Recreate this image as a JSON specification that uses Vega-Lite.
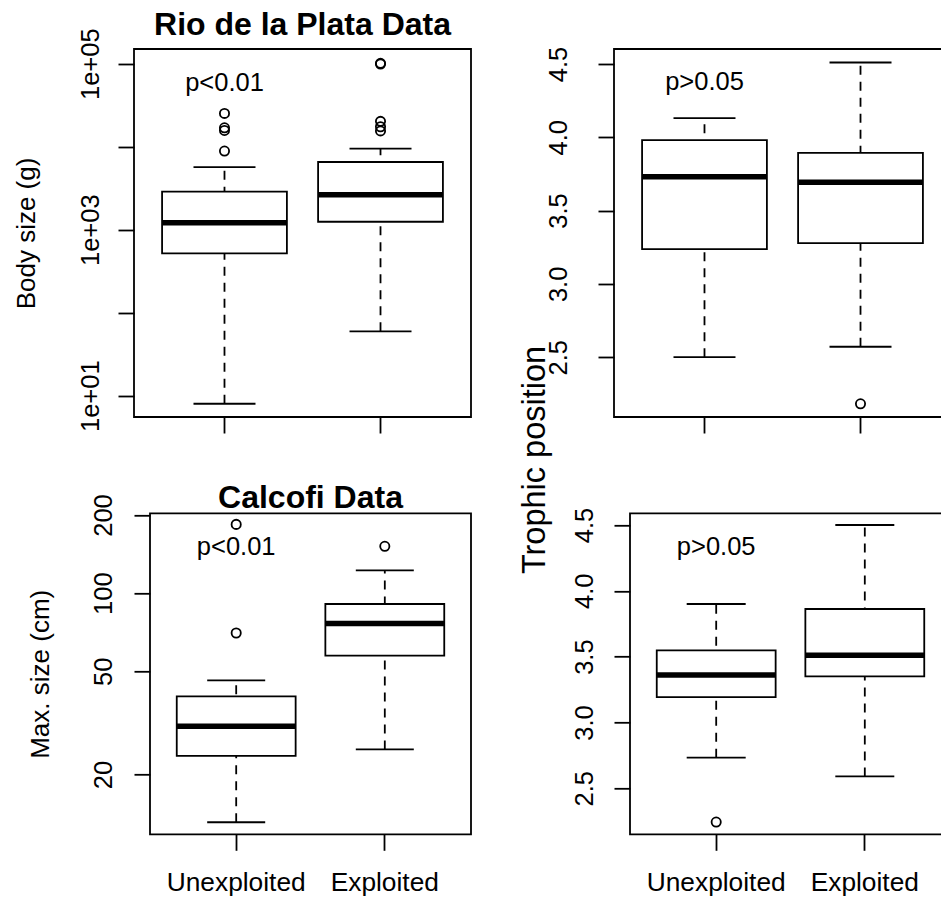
{
  "$schema": "https://vega.github.io/schema/vega-lite/v6.json",
  "background": "white",
  "padding": {"left": 12, "top": 8, "right": 0, "bottom": 0},
  "datasets": {
    "boxes": [
      {"panel": "rio_size", "group": "Unexploited", "lower": 8.0, "q1": 519, "median": 1214, "q3": 2870, "upper": 5690},
      {"panel": "rio_size", "group": "Exploited", "lower": 59.7, "q1": 1248, "median": 2640, "q3": 6540, "upper": 9460},
      {"panel": "rio_tp", "group": "Unexploited", "lower": 2.5, "q1": 3.237, "median": 3.73, "q3": 3.98, "upper": 4.13},
      {"panel": "rio_tp", "group": "Exploited", "lower": 2.571, "q1": 3.278, "median": 3.694, "q3": 3.893, "upper": 4.51},
      {"panel": "cal_size", "group": "Unexploited", "lower": 13.1, "q1": 23.6, "median": 30.7, "q3": 40.0, "upper": 46.1},
      {"panel": "cal_size", "group": "Exploited", "lower": 25.0, "q1": 57.4, "median": 76.3, "q3": 90.8, "upper": 122.4},
      {"panel": "cal_tp", "group": "Unexploited", "lower": 2.732, "q1": 3.193, "median": 3.36, "q3": 3.548, "upper": 3.9},
      {"panel": "cal_tp", "group": "Exploited", "lower": 2.59, "q1": 3.35, "median": 3.51, "q3": 3.862, "upper": 4.5}
    ],
    "outliers": [
      {"panel": "rio_size", "group": "Unexploited", "value": 25200},
      {"panel": "rio_size", "group": "Unexploited", "value": 16900},
      {"panel": "rio_size", "group": "Unexploited", "value": 15700},
      {"panel": "rio_size", "group": "Unexploited", "value": 8870},
      {"panel": "rio_size", "group": "Exploited", "value": 101000},
      {"panel": "rio_size", "group": "Exploited", "value": 99000},
      {"panel": "rio_size", "group": "Exploited", "value": 20200},
      {"panel": "rio_size", "group": "Exploited", "value": 17400},
      {"panel": "rio_size", "group": "Exploited", "value": 15500},
      {"panel": "rio_tp", "group": "Exploited", "value": 2.182},
      {"panel": "cal_size", "group": "Unexploited", "value": 70.2},
      {"panel": "cal_size", "group": "Unexploited", "value": 184},
      {"panel": "cal_size", "group": "Exploited", "value": 151.5},
      {"panel": "cal_tp", "group": "Unexploited", "value": 2.243}
    ],
    "labels": [
      {"panel": "rio_size", "group": "Unexploited", "text": "p<0.01", "value": 47300},
      {"panel": "rio_tp", "group": "Unexploited", "text": "p>0.05", "value": 4.319},
      {"panel": "cal_size", "group": "Unexploited", "text": "p<0.01", "value": 140.2},
      {"panel": "cal_tp", "group": "Unexploited", "text": "p>0.05", "value": 4.272}
    ]
  },
  "spacing": 45,
  "hconcat": [
    {
      "bounds": "flush",
      "spacing": 96.3,
      "vconcat": [
        {
          "width": 337, "height": 368,
          "title": {"text": "Rio de la Plata Data", "fontSize": 32, "fontWeight": "bold", "anchor": "middle", "frame": "group", "baseline": "alphabetic", "offset": -39, "color": "black"},
          "encoding": {
            "x": {"field": "group", "type": "nominal", "sort": ["Unexploited", "Exploited"], "title": null,
                  "scale": {"paddingInner": 0.2, "paddingOuter": 0.18},
                  "axis": {"labels": false, "ticks": true, "tickSize": 16, "domain": false, "grid": false}}
          },
          "layer": [
            {"data": {"name": "boxes"}, "transform": [{"filter": "datum.panel === 'rio_size'"}],
             "mark": {"type": "rule", "strokeDash": [9, 7], "strokeWidth": 1.8, "color": "black"},
             "encoding": {
               "y": {"field": "lower", "type": "quantitative", "title": "Body size (g)",
                     "scale": {"type": "log", "domain": [5.54, 150400], "nice": false, "zero": false},
                     "axis": {"values": [10, 100, 1000, 10000, 100000],
                              "labelExpr": "datum.value == 10 ? '1e+01' : datum.value == 1000 ? '1e+03' : datum.value == 100000 ? '1e+05' : ''",
                              "tickSize": 16, "labelPadding": 20, "labelAngle": 270, "labelAlign": "center", "labelBaseline": "alphabetic",
                              "labelFontSize": 25.5, "labelOverlap": false, "labelFlush": false,
                              "titleFontSize": 26, "titlePadding": 40, "minExtent": 60, "maxExtent": 60, "titleBaseline": "alphabetic",
                              "domain": false, "grid": false}},
               "y2": {"field": "upper"}
             }},
            {"data": {"name": "boxes"}, "transform": [{"filter": "datum.panel === 'rio_size'"}],
             "mark": {"type": "bar", "fill": "white", "stroke": "black", "strokeWidth": 1.8},
             "encoding": {"y": {"field": "q1", "type": "quantitative", "title": "Body size (g)"}, "y2": {"field": "q3"}}},
            {"data": {"name": "boxes"}, "transform": [{"filter": "datum.panel === 'rio_size'"}],
             "mark": {"type": "tick", "size": 125, "thickness": 5.5, "color": "black", "opacity": 1},
             "encoding": {"y": {"field": "median", "type": "quantitative", "title": "Body size (g)"}}},
            {"data": {"name": "boxes"}, "transform": [{"filter": "datum.panel === 'rio_size'"}],
             "mark": {"type": "tick", "size": 62, "thickness": 1.8, "color": "black", "opacity": 1},
             "encoding": {"y": {"field": "lower", "type": "quantitative", "title": "Body size (g)"}}},
            {"data": {"name": "boxes"}, "transform": [{"filter": "datum.panel === 'rio_size'"}],
             "mark": {"type": "tick", "size": 62, "thickness": 1.8, "color": "black", "opacity": 1},
             "encoding": {"y": {"field": "upper", "type": "quantitative", "title": "Body size (g)"}}},
            {"data": {"name": "outliers"}, "transform": [{"filter": "datum.panel === 'rio_size'"}],
             "mark": {"type": "point", "shape": "circle", "filled": false, "size": 85, "strokeWidth": 1.8, "color": "black", "opacity": 1},
             "encoding": {"y": {"field": "value", "type": "quantitative", "title": "Body size (g)"}}},
            {"data": {"name": "labels"}, "transform": [{"filter": "datum.panel === 'rio_size'"}],
             "mark": {"type": "text", "fontSize": 25.5, "align": "center", "baseline": "alphabetic", "color": "black"},
             "encoding": {"y": {"field": "value", "type": "quantitative", "title": "Body size (g)"}, "text": {"field": "text"}}}
          ]
        },
        {
          "bounds": "flush",
          "spacing": 0,
          "hconcat": [
            {"width": 16, "height": 1, "view": {"stroke": null}, "data": {"values": []}, "mark": "point"},
            {
              "width": 321, "height": 321,
              "title": {"text": "Calcofi Data", "fontSize": 32, "fontWeight": "bold", "anchor": "middle", "frame": "group", "baseline": "alphabetic", "offset": -46.5, "color": "black"},
              "encoding": {
                "x": {"field": "group", "type": "nominal", "sort": ["Unexploited", "Exploited"], "title": null,
                      "scale": {"paddingInner": 0.2, "paddingOuter": 0.18},
                      "axis": {"labels": true, "labelAngle": 0, "labelFontSize": 26.3, "labelPadding": 40, "labelBaseline": "alphabetic",
                               "ticks": true, "tickSize": 16, "domain": false, "grid": false}}
              },
              "layer": [
                {"data": {"name": "boxes"}, "transform": [{"filter": "datum.panel === 'cal_size'"}],
                 "mark": {"type": "rule", "strokeDash": [9, 7], "strokeWidth": 1.8, "color": "black"},
                 "encoding": {
                   "y": {"field": "lower", "type": "quantitative", "title": "Max. size (cm)",
                         "scale": {"type": "log", "domain": [11.77, 203], "nice": false, "zero": false},
                         "axis": {"values": [20, 50, 100, 200], "format": "d",
                                  "tickSize": 16, "labelPadding": 23, "labelAngle": 270, "labelAlign": "center", "labelBaseline": "alphabetic",
                                  "labelFontSize": 25.5, "labelOverlap": false, "labelFlush": false,
                                  "titleFontSize": 26, "titlePadding": 42, "minExtent": 60, "maxExtent": 60, "titleBaseline": "alphabetic",
                                  "domain": false, "grid": false}},
                   "y2": {"field": "upper"}
                 }},
                {"data": {"name": "boxes"}, "transform": [{"filter": "datum.panel === 'cal_size'"}],
                 "mark": {"type": "bar", "fill": "white", "stroke": "black", "strokeWidth": 1.8},
                 "encoding": {"y": {"field": "q1", "type": "quantitative", "title": "Max. size (cm)"}, "y2": {"field": "q3"}}},
                {"data": {"name": "boxes"}, "transform": [{"filter": "datum.panel === 'cal_size'"}],
                 "mark": {"type": "tick", "size": 119, "thickness": 5.5, "color": "black", "opacity": 1},
                 "encoding": {"y": {"field": "median", "type": "quantitative", "title": "Max. size (cm)"}}},
                {"data": {"name": "boxes"}, "transform": [{"filter": "datum.panel === 'cal_size'"}],
                 "mark": {"type": "tick", "size": 58, "thickness": 1.8, "color": "black", "opacity": 1},
                 "encoding": {"y": {"field": "lower", "type": "quantitative", "title": "Max. size (cm)"}}},
                {"data": {"name": "boxes"}, "transform": [{"filter": "datum.panel === 'cal_size'"}],
                 "mark": {"type": "tick", "size": 58, "thickness": 1.8, "color": "black", "opacity": 1},
                 "encoding": {"y": {"field": "upper", "type": "quantitative", "title": "Max. size (cm)"}}},
                {"data": {"name": "outliers"}, "transform": [{"filter": "datum.panel === 'cal_size'"}],
                 "mark": {"type": "point", "shape": "circle", "filled": false, "size": 85, "strokeWidth": 1.8, "color": "black", "opacity": 1},
                 "encoding": {"y": {"field": "value", "type": "quantitative", "title": "Max. size (cm)"}}},
                {"data": {"name": "labels"}, "transform": [{"filter": "datum.panel === 'cal_size'"}],
                 "mark": {"type": "text", "fontSize": 25.5, "align": "center", "baseline": "alphabetic", "color": "black"},
                 "encoding": {"y": {"field": "value", "type": "quantitative", "title": "Max. size (cm)"}, "text": {"field": "text"}}}
              ]
            }
          ]
        }
      ]
    },
    {
      "bounds": "flush",
      "spacing": 96.3,
      "vconcat": [
        {
          "width": 337, "height": 368,
          "encoding": {
            "x": {"field": "group", "type": "nominal", "sort": ["Unexploited", "Exploited"], "title": null,
                  "scale": {"paddingInner": 0.2, "paddingOuter": 0.18},
                  "axis": {"labels": false, "ticks": true, "tickSize": 16, "domain": false, "grid": false}}
          },
          "layer": [
            {"data": {"name": "boxes"}, "transform": [{"filter": "datum.panel === 'rio_tp'"}],
             "mark": {"type": "rule", "strokeDash": [9, 7], "strokeWidth": 1.8, "color": "black"},
             "encoding": {
               "y": {"field": "lower", "type": "quantitative", "title": "Trophic position",
                     "scale": {"domain": [2.092, 4.602], "nice": false, "zero": false},
                     "axis": {"values": [2.5, 3, 3.5, 4, 4.5], "format": ".1f",
                              "tickSize": 16, "labelPadding": 32, "labelAngle": 270, "labelAlign": "center", "labelBaseline": "alphabetic",
                              "labelFontSize": 25.5, "labelOverlap": false, "labelFlush": false,
                              "titleFontSize": 32.5, "titlePadding": 20, "minExtent": 50, "maxExtent": 50, "titleBaseline": "alphabetic",
                              "titleY": 410.5, "titleAlign": "center",
                              "domain": false, "grid": false}},
               "y2": {"field": "upper"}
             }},
            {"data": {"name": "boxes"}, "transform": [{"filter": "datum.panel === 'rio_tp'"}],
             "mark": {"type": "bar", "fill": "white", "stroke": "black", "strokeWidth": 1.8},
             "encoding": {"y": {"field": "q1", "type": "quantitative", "title": "Trophic position"}, "y2": {"field": "q3"}}},
            {"data": {"name": "boxes"}, "transform": [{"filter": "datum.panel === 'rio_tp'"}],
             "mark": {"type": "tick", "size": 125, "thickness": 5.5, "color": "black", "opacity": 1},
             "encoding": {"y": {"field": "median", "type": "quantitative", "title": "Trophic position"}}},
            {"data": {"name": "boxes"}, "transform": [{"filter": "datum.panel === 'rio_tp'"}],
             "mark": {"type": "tick", "size": 62, "thickness": 1.8, "color": "black", "opacity": 1},
             "encoding": {"y": {"field": "lower", "type": "quantitative", "title": "Trophic position"}}},
            {"data": {"name": "boxes"}, "transform": [{"filter": "datum.panel === 'rio_tp'"}],
             "mark": {"type": "tick", "size": 62, "thickness": 1.8, "color": "black", "opacity": 1},
             "encoding": {"y": {"field": "upper", "type": "quantitative", "title": "Trophic position"}}},
            {"data": {"name": "outliers"}, "transform": [{"filter": "datum.panel === 'rio_tp'"}],
             "mark": {"type": "point", "shape": "circle", "filled": false, "size": 85, "strokeWidth": 1.8, "color": "black", "opacity": 1},
             "encoding": {"y": {"field": "value", "type": "quantitative", "title": "Trophic position"}}},
            {"data": {"name": "labels"}, "transform": [{"filter": "datum.panel === 'rio_tp'"}],
             "mark": {"type": "text", "fontSize": 25.5, "align": "center", "baseline": "alphabetic", "color": "black"},
             "encoding": {"y": {"field": "value", "type": "quantitative", "title": "Trophic position"}, "text": {"field": "text"}}}
          ]
        },
        {
          "bounds": "flush",
          "spacing": 0,
          "hconcat": [
            {"width": 16, "height": 1, "view": {"stroke": null}, "data": {"values": []}, "mark": "point"},
            {
              "width": 321, "height": 321,
              "encoding": {
                "x": {"field": "group", "type": "nominal", "sort": ["Unexploited", "Exploited"], "title": null,
                      "scale": {"paddingInner": 0.2, "paddingOuter": 0.18},
                      "axis": {"labels": true, "labelAngle": 0, "labelFontSize": 26.3, "labelPadding": 40, "labelBaseline": "alphabetic",
                               "ticks": true, "tickSize": 16, "domain": false, "grid": false}}
              },
              "layer": [
                {"data": {"name": "boxes"}, "transform": [{"filter": "datum.panel === 'cal_tp'"}],
                 "mark": {"type": "rule", "strokeDash": [9, 7], "strokeWidth": 1.8, "color": "black"},
                 "encoding": {
                   "y": {"field": "lower", "type": "quantitative", "title": null,
                         "scale": {"domain": [2.15, 4.589], "nice": false, "zero": false},
                         "axis": {"values": [2.5, 3, 3.5, 4, 4.5], "format": ".1f",
                                  "tickSize": 16, "labelPadding": 22, "labelAngle": 270, "labelAlign": "center", "labelBaseline": "alphabetic",
                                  "labelFontSize": 25.5, "labelOverlap": false, "labelFlush": false,
                                  "domain": false, "grid": false}},
                   "y2": {"field": "upper"}
                 }},
                {"data": {"name": "boxes"}, "transform": [{"filter": "datum.panel === 'cal_tp'"}],
                 "mark": {"type": "bar", "fill": "white", "stroke": "black", "strokeWidth": 1.8},
                 "encoding": {"y": {"field": "q1", "type": "quantitative", "title": null}, "y2": {"field": "q3"}}},
                {"data": {"name": "boxes"}, "transform": [{"filter": "datum.panel === 'cal_tp'"}],
                 "mark": {"type": "tick", "size": 119, "thickness": 5.5, "color": "black", "opacity": 1},
                 "encoding": {"y": {"field": "median", "type": "quantitative", "title": null}}},
                {"data": {"name": "boxes"}, "transform": [{"filter": "datum.panel === 'cal_tp'"}],
                 "mark": {"type": "tick", "size": 59, "thickness": 1.8, "color": "black", "opacity": 1},
                 "encoding": {"y": {"field": "lower", "type": "quantitative", "title": null}}},
                {"data": {"name": "boxes"}, "transform": [{"filter": "datum.panel === 'cal_tp'"}],
                 "mark": {"type": "tick", "size": 59, "thickness": 1.8, "color": "black", "opacity": 1},
                 "encoding": {"y": {"field": "upper", "type": "quantitative", "title": null}}},
                {"data": {"name": "outliers"}, "transform": [{"filter": "datum.panel === 'cal_tp'"}],
                 "mark": {"type": "point", "shape": "circle", "filled": false, "size": 85, "strokeWidth": 1.8, "color": "black", "opacity": 1},
                 "encoding": {"y": {"field": "value", "type": "quantitative", "title": null}}},
                {"data": {"name": "labels"}, "transform": [{"filter": "datum.panel === 'cal_tp'"}],
                 "mark": {"type": "text", "fontSize": 25.5, "align": "center", "baseline": "alphabetic", "color": "black"},
                 "encoding": {"y": {"field": "value", "type": "quantitative", "title": null}, "text": {"field": "text"}}}
              ]
            }
          ]
        }
      ]
    }
  ],
  "config": {
    "font": "Liberation Sans",
    "view": {"stroke": "black", "strokeWidth": 1.8},
    "axis": {"labelColor": "black", "titleColor": "black", "tickColor": "black", "tickWidth": 1.8,
             "labelFont": "Liberation Sans", "titleFont": "Liberation Sans", "titleFontWeight": "normal"},
    "title": {"font": "Liberation Sans", "color": "black"},
    "text": {"font": "Liberation Sans"}
  }
}
